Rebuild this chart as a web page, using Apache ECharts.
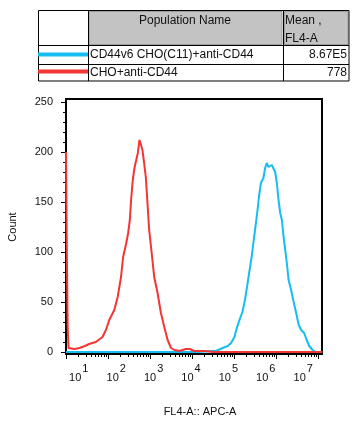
<!DOCTYPE html>
<html>
<head>
<meta charset="utf-8">
<script src="https://cdn.jsdelivr.net/npm/echarts@6/dist/echarts.min.js"></script>
<style>html,body{margin:0;padding:0;background:#fff}#c{width:359px;height:425px}</style>
</head>
<body>
<div id="c"></div>
<script>
// ---- data (x in log10 of FL4-A, y = event count) ----
const populationNames = ['CD44v6 CHO(C11)+anti-CD44', 'CHO+anti-CD44'];
const populationMeans = ['8.67E5', '778'];
const headerName = 'Population Name';
const headerMean = ['Mean ,', 'FL4-A'];

const cyanLogFL = [1.00, 4.17, 4.45, 4.57, 4.61, 4.73, 4.85, 4.93, 5.01, 5.06, 5.13, 5.20, 5.26, 5.31, 5.36, 5.42, 5.47, 5.51, 5.56, 5.60, 5.64, 5.70, 5.74, 5.78, 5.82, 5.86, 5.90, 5.94, 5.98, 6.02, 6.06, 6.10, 6.14, 6.18, 6.22, 6.26, 6.30, 6.36, 6.41, 6.48, 6.54, 6.60, 6.67, 6.73, 6.79, 6.87, 6.95, 7.1];
const cyanCount = [0, 0, 1, 1, 2, 4, 6, 9, 15, 23, 32, 40, 52, 65, 79, 95, 112, 125, 142, 157, 169, 174, 184, 189, 185, 183, 187, 187, 180, 169, 152, 139, 132, 115, 102, 88, 72, 62, 52, 39, 27, 22, 19, 12, 6, 2, 0, 0];

const redLogFL = [1.00, 1.02, 1.04, 1.06, 1.10, 1.20, 1.32, 1.45, 1.55, 1.71, 1.87, 1.95, 2.03, 2.15, 2.23, 2.31, 2.36, 2.43, 2.48, 2.52, 2.55, 2.59, 2.63, 2.67, 2.71, 2.75, 2.79, 2.82, 2.86, 2.90, 2.94, 2.98, 3.04, 3.10, 3.18, 3.26, 3.34, 3.42, 3.50, 3.58, 3.70, 3.85, 3.95, 4.05, 4.30, 4.50, 7.1];
const redCount = [200, 99, 25, 4, 3, 3, 4, 6, 8, 10, 15, 22, 32, 42, 55, 75, 95, 108, 119, 132, 152, 172, 184, 182, 199, 212, 210, 202, 189, 175, 149, 122, 99, 75, 59, 39, 25, 12, 4, 2, 1, 3, 3, 1, 1, 0, 0];

const xDecades = [1, 2, 3, 4, 5, 6, 7];
const yTicks = [0, 50, 100, 150, 200, 250];
const yMinorTicks = [10, 20, 30, 40, 60, 70, 80, 90, 110, 120, 130, 140, 160, 170, 180, 190, 210, 220, 230, 240];
const xTitle = 'FL4-A:: APC-A';
const yTitle = 'Count';

// ---- build ----
const FONT = 'Liberation Sans, Arial, sans-serif';
const XMIN = 1, XMAX = 7.095;
const YMIN = -2, YMAX = 253;
const minorTicks = [];
for (let n = 1; n <= 7; n++) for (let k = 2; k <= 9; k++) { const v = n + Math.log10(k); if (v <= XMAX) minorTicks.push(v); }
const zip = (a, b) => a.map((v, i) => [v, b[i]]);
const CYAN = '#16bdf0', RED = '#f23535';

const chart = echarts.init(document.getElementById('c'), null, {renderer: 'canvas'});

function txt(x, y, text, align, size) {
  return {type: 'text', x: x, y: y, silent: true,
    style: {text: text, fill: '#111', font: (size || 12) + 'px ' + FONT, align: align || 'left', verticalAlign: 'middle', textAlign: align || 'left', textVerticalAlign: 'middle'}};
}
function ln(x1, y1, x2, y2, color, w) {
  return {type: 'line', silent: true, shape: {x1: x1, y1: y1, x2: x2, y2: y2}, style: {stroke: color || '#000', lineWidth: w || 1}};
}

const graphics = [
  {type: 'rect', shape: {x: 89, y: 11.5, width: 193, height: 33}, style: {fill: '#c3c3c3', stroke: '#9c9c9c', lineWidth: 1}},
  {type: 'rect', shape: {x: 284.5, y: 11.5, width: 63.5, height: 33}, style: {fill: '#c3c3c3', stroke: '#9c9c9c', lineWidth: 1}},
  {type: 'rect', shape: {x: 38.5, y: 10.5, width: 310.5, height: 70.5}, style: {fill: 'none', stroke: '#000', lineWidth: 1}},
  ln(38.5, 45.5, 349, 45.5), ln(38.5, 64.5, 349, 64.5),
  ln(88.5, 10.5, 88.5, 81), ln(283.5, 10.5, 283.5, 81),
  ln(38, 54.5, 88, 54.5, CYAN, 4), ln(38, 71.5, 88, 71.5, RED, 4),
  txt(185, 21, headerName, 'center'),
  txt(285, 21, headerMean[0]), txt(285, 39, headerMean[1]),
  txt(90, 55, populationNames[0]), txt(90, 73, populationNames[1]),
  txt(347, 55, populationMeans[0], 'right'), txt(347, 73, populationMeans[1], 'right'),
  {type: 'text', x: 12.5, y: 227, rotation: Math.PI / 2, silent: true,
    style: {text: yTitle, fill: '#111', font: '11px ' + FONT, align: 'center', verticalAlign: 'middle', textAlign: 'center', textVerticalAlign: 'middle'}},
  txt(200, 412, xTitle, 'center', 11)
];

chart.setOption({
  animation: false,
  backgroundColor: '#fff',
  grid: {left: 66, right: 37, top: 99, bottom: 71, show: true, borderColor: '#000', borderWidth: 2, backgroundColor: 'transparent'},
  xAxis: [
    {type: 'value', min: XMIN, max: XMAX, position: 'bottom',
      axisLine: {onZero: false, lineStyle: {color: '#000', width: 2}},
      axisTick: {show: true, customValues: xDecades, length: 5, lineStyle: {color: '#000', width: 1}},
      axisLabel: {show: false}, splitLine: {show: false}},
    {type: 'value', min: XMIN, max: XMAX, position: 'bottom',
      axisLine: {show: false, onZero: false},
      axisTick: {show: true, customValues: minorTicks, length: 3, lineStyle: {color: '#000', width: 1}},
      axisLabel: {show: false}, splitLine: {show: false}},
    {type: 'value', min: 0.658, max: 7.503, position: 'bottom',
      axisLine: {show: false, onZero: false}, axisTick: {show: false}, splitLine: {show: false},
      axisLabel: {show: true, customValues: xDecades, margin: 9, color: '#111',
        formatter: v => '{b|10}{s|' + v + '}',
        rich: {b: {fontSize: 11, fontFamily: FONT, color: '#111', padding: [9, 0, 0, 0]},
               s: {fontSize: 11, fontFamily: FONT, color: '#111', padding: [0, 0, 8, 1]}}}}
  ],
  yAxis: [
    {type: 'value', min: YMIN, max: YMAX, position: 'left',
      axisLine: {show: true, onZero: false, lineStyle: {color: '#000', width: 2}},
      axisTick: {show: true, customValues: yTicks, length: 5, lineStyle: {color: '#000'}},
      axisLabel: {customValues: yTicks, margin: 13, fontSize: 11, fontFamily: FONT, color: '#111'},
      splitLine: {show: false}},
    {type: 'value', min: YMIN, max: YMAX, position: 'left',
      axisLine: {show: false, onZero: false},
      axisTick: {show: true, customValues: yMinorTicks, length: 3, lineStyle: {color: '#000'}},
      axisLabel: {show: false}, splitLine: {show: false}}
  ],
  series: [
    {name: populationNames[0], type: 'line', xAxisIndex: 0, yAxisIndex: 0, data: zip(cyanLogFL, cyanCount), showSymbol: false, symbol: 'none',
      lineStyle: {color: CYAN, width: 2}, itemStyle: {color: CYAN}, clip: true, z: 3},
    {name: populationNames[1], type: 'line', xAxisIndex: 0, yAxisIndex: 0, data: zip(redLogFL, redCount), showSymbol: false, symbol: 'none',
      lineStyle: {color: RED, width: 2}, itemStyle: {color: RED}, clip: true, z: 4}
  ],
  graphic: graphics
});
</script>
</body>
</html>
